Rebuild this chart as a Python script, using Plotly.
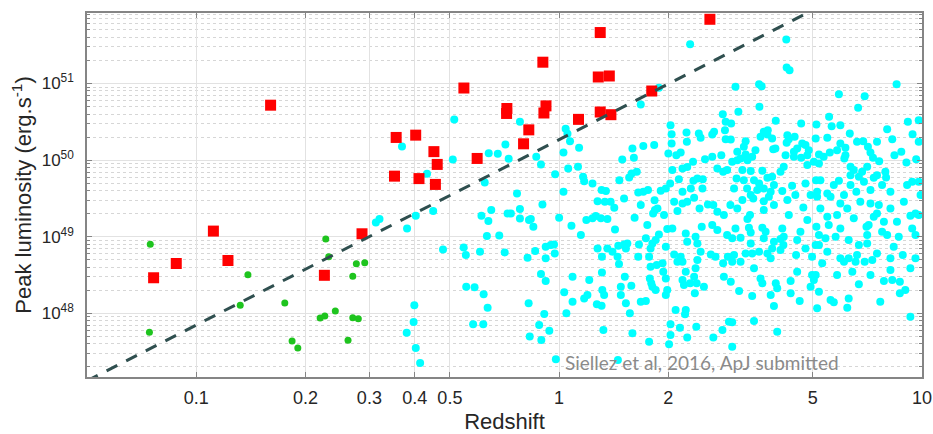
import numpy as np
import plotly.graph_objects as go

# ---------------- data ----------------
red_z = [0.0763, 0.0881, 0.1115, 0.1223, 0.1603, 0.2255, 0.2863, 0.3518, 0.3556, 0.4025,
         0.4110, 0.4518, 0.4561, 0.4614, 0.5465, 0.5945, 0.7178, 0.7165, 0.798, 0.825,
         0.902, 0.920, 0.908, 1.131, 1.298, 1.282, 1.375, 1.298, 1.389, 1.80, 2.603]
red_logL = [48.465, 48.651, 49.074, 48.69, 50.717, 48.497, 49.039, 49.791, 50.296, 50.326,
            49.759, 50.111, 49.683, 49.944, 50.941, 50.022, 50.674, 50.609, 50.213, 50.395,
            51.278, 50.708, 50.615, 50.532, 51.665, 51.085, 51.098, 50.628, 50.593, 50.902, 51.838]

green_z = [0.0747, 0.0743, 0.1388, 0.1322, 0.1754, 0.1837, 0.1905, 0.2275, 0.2318, 0.2417,
           0.2195, 0.2261, 0.270, 0.2762, 0.2913, 0.262, 0.270, 0.2797]
green_logL = [48.901, 47.754, 48.505, 48.106, 48.136, 47.64, 47.549, 48.97, 48.739, 48.031,
              47.94, 47.966, 48.484, 48.648, 48.661, 47.649, 47.944, 47.931]

cyan_logz = [
    -0.289, -0.433, -0.364, -0.293, -0.194, -0.169, -0.148, -0.139, -0.108, -0.205, -0.116,
    0.361, 0.275, 0.225, 0.018, 0.023, 0.030, 0.055, 0.012, -0.050, -0.063, -0.011, 0.025, 0.052,
    0.066, 0.069, 0.092, 0.012, 0.117, 0.129, 0.166, 0.174, 0.202, 0.206, 0.232, 0.262, 0.193,
    0.200, 0.214, 0.218, 0.232, 0.451, 0.459, 0.457, 0.427, 0.422, 0.385, 0.390, 0.351, 0.352,
    0.307, 0.310, 0.310, 0.301, 0.323, 0.335, 0.353, 0.340, 0.369, 0.312, 0.306, 0.330, 0.370,
    0.381, 0.396, 0.402, 0.422, 0.436, 0.447, 0.459, 0.463, 0.452, 0.395, 0.363, 0.340, 0.294,
    0.280, 0.245,
    0.626, 0.627, 0.635, 0.551, 0.558, 0.486, 0.930, 0.771, 0.842, 0.824, 0.552, 0.494, 0.744,
    0.751, 0.775, 0.801, 0.709, 0.667, 0.597, 0.474, 0.961, 0.991, 0.904, 0.974, 0.918, 0.991,
    0.473, 0.514, 0.509, 0.564, 0.574, 0.587, 0.555, 0.590, 0.629, 0.627, 0.649, 0.670, 0.679,
    0.656, 0.541, 0.491, 0.500, 0.519, 0.532, 0.477, 0.624, 0.647, 0.667, 0.702, 0.716, 0.716,
    0.739, 0.775, 0.789, 0.821, 0.838, 0.851, 0.876, 0.858, 0.882, 0.865, 0.924, 0.943, 0.957,
    0.984, 0.746, 0.766, 0.786, 0.803, 0.812, 0.826, 0.867, 0.803, 0.771, 0.757, 0.720, 0.679,
    0.642, 0.615, 0.587, 0.560, 0.528, 0.505, 0.489, 0.509, 0.537, 0.551, 0.574, 0.610, 0.619,
    0.583, 0.684, 0.711, 0.708, 0.819, 0.858, 0.899,
    -0.505, -0.495, -0.419, -0.395, -0.347, -0.320, -0.263, -0.257, -0.218, -0.214, -0.195,
    -0.187, -0.199, -0.165, -0.150, -0.142, -0.133, -0.108, -0.108, -0.083, -0.087, -0.256,
    -0.233, -0.208, -0.197, -0.237, -0.209, -0.084, -0.081, -0.399, -0.401, -0.420, -0.395,
    -0.383,
    -0.046, 0.000, 0.034, 0.075, 0.092, 0.101, 0.115, 0.133, 0.106, 0.126, 0.152, 0.179, 0.154,
    0.208, 0.263, 0.264, 0.259, 0.271, 0.298, 0.312, 0.317, 0.326, 0.340, 0.372, 0.387, 0.410,
    0.425, 0.454, 0.393, 0.422, 0.436, 0.463, -0.071, -0.078, -0.066, -0.037, -0.023, -0.014,
    -0.012, -0.037, -0.050, -0.037, 0.037, 0.014, 0.037, 0.020, -0.041, -0.055, -0.027, -0.049,
    -0.009, 0.106, 0.118, 0.133, 0.147, 0.161, 0.165, 0.163, 0.179, 0.188, 0.184, 0.220, 0.239,
    0.218, 0.248, 0.252, 0.257, 0.266, 0.275, 0.294, 0.252, 0.269, 0.285, 0.287, 0.294, 0.250,
    0.254, 0.257, 0.266, 0.298, 0.294, 0.225, 0.239, 0.199, 0.170, 0.181, 0.118, 0.119, 0.124,
    0.083, 0.078, 0.104, 0.117, 0.069, 0.170, 0.184, 0.195, 0.122, 0.202, 0.248, 0.307, 0.321,
    0.349, 0.347, 0.307, 0.333, 0.353, 0.378, 0.303, 0.425, 0.450, 0.468, 0.335, 0.340, 0.349,
    0.340, 0.344, 0.361, 0.376, 0.381, 0.372, 0.379, 0.374, 0.399, 0.390, 0.381, 0.353, 0.349,
    0.376, 0.418, 0.431, 0.452, 0.454, 0.465, 0.317, 0.326, 0.162,
    0.505, 0.535, 0.564, 0.578, 0.564, 0.526, 0.519, 0.486, 0.523, 0.528, 0.560, 0.569, 0.564,
    0.500, 0.477, 0.528, 0.532, 0.514, 0.551, 0.574, 0.583, 0.587, 0.592, 0.610, 0.615, 0.619,
    0.618, 0.610, 0.656, 0.665, 0.653, 0.673, 0.711, 0.748, 0.775, 0.794, 0.830, 0.858, 0.881,
    0.876, 0.867, 0.895, 0.890, 0.904, 0.936, 0.922, 0.947, 0.973, 0.982, 0.968, 0.982, 0.991,
    0.720, 0.739, 0.743, 0.709, 0.716, 0.734, 0.762, 0.798, 0.826, 0.849, 0.849, 0.847, 0.853,
    0.707, 0.716, 0.739, 0.697, 0.725, 0.775, 0.785, 0.798, 0.821, 0.817, 0.808, 0.842, 0.863,
    0.913, 0.913, 0.968, 0.982, 0.697, 0.707, 0.702, 0.693, 0.716, 0.748, 0.757, 0.798, 0.794,
    0.826, 0.895, 0.918, 0.939, 0.939, 0.954, 0.885, 0.711, 0.638, 0.638, 0.597, 0.601, 0.555,
    0.560, 0.496, 0.532, 0.583, 0.592, 0.663, 0.473, 0.477, 0.482, 0.968, 0.537, 0.477, 0.601,
    0.477,
    # additional points read from the dense areas
    0.482, 0.528, 0.564, 0.592, 0.651, 0.693, 0.739, 0.785, 0.803, 0.840, 0.890, 0.913, 0.959,
    0.991, 0.996, 0.575, 0.596, 0.633, 0.647, 0.688, 0.707, 0.684, 0.729, 0.789, 0.835, 0.849,
    0.876, 0.901, 0.973, 0.514, 0.491, 0.518, 0.546,
    0.491, 0.592, 0.629, 0.633, 0.684, 0.766, 0.812, 0.913, 0.950, 0.931, 0.775, 0.679, 0.876,
    0.766, 0.858, 0.656, 0.537, 0.500,
    0.142, 0.225, 0.289, 0.353, 0.436, 0.472, 0.243, 0.060,
]
cyan_logL = [
    50.53, 50.178, 49.822, 50.009, 50.091, 50.083, 50.204, 50.017, 50.50, 49.709, 49.566,
    51.512, 50.943, 50.726, 50.409, 50.343, 50.248, 50.161, 50.100, 49.943, 50.043, 49.817,
    49.891, 49.913, 49.783, 49.726, 49.696, 49.587, 49.609, 49.596, 49.739, 50.009, 50.152,
    50.030, 50.183, 50.196, 49.774, 49.826, 49.848, 49.578, 49.587, 50.600, 50.500, 50.391,
    50.369, 50.335, 50.348, 50.291, 50.361, 50.239, 50.456, 50.339, 50.217, 50.087, 50.065,
    50.100, 49.909, 49.891, 49.978, 49.870, 49.696, 49.752, 49.731, 49.761, 49.752, 50.013,
    50.043, 49.891, 50.065, 50.274, 49.870, 49.848, 49.631, 49.631, 49.587, 49.631, 49.600,
    49.609,
    51.573, 51.208, 51.173, 50.991, 50.965, 50.956, 50.991, 50.861, 50.834, 50.682, 50.695,
    50.630, 50.565, 50.443, 50.456, 50.348, 50.465, 50.478, 50.513, 50.478, 50.500, 50.521,
    50.404, 50.339, 50.274, 50.239, 50.270, 50.248, 50.174, 50.369, 50.335, 50.282, 50.304,
    50.143, 50.326, 50.226, 50.304, 50.217, 50.196, 50.152, 50.130, 50.109, 50.022, 50.000,
    50.043, 49.978, 50.065, 50.043, 50.030, 49.978, 50.074, 49.957, 50.291, 50.217, 50.161,
    50.239, 50.248, 50.174, 50.239, 50.100, 49.987, 50.030, 50.065, 50.109, 49.970, 50.013,
    50.100, 50.130, 50.022, 49.913, 49.870, 49.783, 49.770, 49.804, 49.731, 49.674, 49.739,
    49.696, 49.665, 49.596, 49.783, 49.861, 49.857, 49.870, 49.761, 49.739, 49.739, 49.696,
    49.770, 49.848, 49.913, 49.587, 49.935, 49.587, 49.739, 49.587, 49.609, 49.848,
    49.187, 49.231, 49.109, 49.274, 49.335, 48.835, 48.861, 48.761, 48.805, 49.274, 49.205,
    49.348, 49.009, 49.018, 48.796, 49.305, 49.305, 49.361, 49.239, 49.218, 48.727, 48.349,
    48.340, 48.249, 48.075, 47.858, 47.858, 48.131, 47.697, 48.105, 47.888, 47.749, 47.549,
    47.353,
    49.422, 49.248, 49.144, 49.218, 49.240, 49.270, 49.240, 49.231, 49.465, 49.457, 49.379,
    49.500, 49.096, 49.248, 49.478, 49.348, 49.305, 49.370, 49.100, 49.109, 49.457, 49.335,
    49.435, 49.509, 49.370, 49.422, 49.413, 49.283, 49.131, 49.152, 49.087, 49.022, 49.131,
    49.231, 48.813, 48.870, 48.892, 48.900, 48.783, 48.718, 48.514, 48.422, 48.479, 48.275,
    48.153, 48.001, 47.992, 47.849, 47.775, 47.653, 47.401, 48.848, 48.740, 48.848, 48.805,
    48.740, 48.644, 48.883, 48.900, 48.913, 48.848, 48.900, 48.979, 48.740, 48.740, 48.848,
    48.913, 48.957, 49.031, 48.870, 48.609, 48.631, 48.653, 48.544, 48.457, 48.457, 48.392,
    48.349, 48.305, 48.305, 48.240, 48.153, 48.162, 48.362, 48.349, 48.479, 48.535, 48.305,
    48.240, 48.435, 48.240, 48.118, 48.101, 48.196, 48.240, 48.131, 48.001, 47.784, 47.740,
    47.631, 47.857, 48.044, 48.044, 47.988, 47.718, 47.814, 47.684, 47.827, 47.597, 47.684,
    47.784, 47.892, 48.740, 48.674, 48.544, 48.435, 48.370, 48.392, 48.588, 48.696, 48.479,
    48.392, 48.262, 48.349, 48.805, 48.913, 48.935, 49.044, 49.000, 48.770, 48.740, 48.653,
    48.479, 48.740, 48.770, 48.674, 47.393,
    49.479, 49.500, 49.465, 49.522, 49.348, 49.283, 49.231, 49.109, 49.118, 49.057, 49.118,
    49.066, 48.979, 48.987, 48.979, 48.913, 48.783, 48.783, 48.805, 48.783, 48.718, 48.848,
    48.935, 48.970, 49.109, 49.000, 48.892, 48.827, 48.957, 49.066, 48.761, 49.383, 49.522,
    49.522, 49.435, 49.370, 49.457, 49.435, 49.413, 49.305, 49.261, 49.196, 49.066, 49.022,
    49.000, 48.870, 48.761, 49.109, 49.022, 49.274, 49.305, 49.283, 49.370, 49.261, 49.152,
    49.131, 49.022, 48.979, 49.000, 48.957, 48.892, 49.022, 48.913, 49.131, 49.152, 48.892,
    48.892, 48.805, 48.740, 48.653, 48.718, 48.674, 48.718, 48.761, 48.674, 48.544, 48.674,
    48.696, 48.718, 48.566, 48.588, 48.718, 48.501, 48.501, 48.435, 48.349, 48.283, 48.175,
    48.144, 48.196, 48.075, 48.379, 48.422, 48.435, 48.414, 48.262, 48.305, 48.153, 48.066,
    48.422, 48.262, 48.392, 48.327, 48.457, 48.392, 48.292, 48.227, 48.240, 48.096, 48.162,
    48.414, 48.674, 48.761, 47.957, 47.901, 47.884, 47.762, 47.566,
    # additional points read from the dense areas
    49.631, 49.544, 49.631, 49.674, 49.544, 49.544, 49.566, 49.544, 49.674, 49.718, 49.674,
    49.587, 49.674, 49.718, 49.544, 50.391, 50.152, 50.274, 50.109, 50.130, 50.283, 50.065,
    50.043, 50.065, 49.848, 49.913, 49.804, 49.774, 49.718, 50.074, 50.000, 49.631, 49.609,
    49.370, 49.413, 49.479, 49.283, 49.218, 49.283, 49.240, 49.370, 49.457, 49.196, 49.109,
    48.848, 48.783, 48.501, 48.501, 48.544, 48.588, 48.674,
    49.457, 49.413, 49.283, 49.457, 49.326, 49.413, 49.153, 49.022,
]

limit_z = [0.05, 4.8]
limit_logL = [47.12, 51.915]

x_tickvals = [0.1, 0.2, 0.3, 0.4, 0.5, 1, 2, 5, 10]
x_ticktext = ["0.1", "0.2", "0.3", "0.4", "0.5", "1", "2", "5", "10"]
y_exponents = [48, 49, 50, 51]

# ---------------- figure ----------------
fig = go.Figure()
fig.add_trace(go.Scatter(
    x=10 ** np.array(cyan_logz), y=10 ** np.array(cyan_logL), mode="markers",
    marker=dict(color="#00ffff", size=8, line=dict(width=0)), showlegend=False))
fig.add_trace(go.Scatter(
    x=green_z, y=10 ** np.array(green_logL), mode="markers",
    marker=dict(color="#1ec41e", size=7, line=dict(width=0)), showlegend=False))
fig.add_trace(go.Scatter(
    x=red_z, y=10 ** np.array(red_logL), mode="markers",
    marker=dict(color="#ff0000", size=11, symbol="square", line=dict(width=0)), showlegend=False))
# detection-limit line (drawn on the overlay axis that carries the inner tick marks)
fig.add_trace(go.Scatter(
    x=limit_z, y=10 ** np.array(limit_logL), mode="lines", xaxis="x2", yaxis="y",
    line=dict(color="#2f4f4f", width=3, dash="12px,10px"), showlegend=False))

font_family = "Liberation Sans, Arial, sans-serif"
text_col = "#262626"
frame_col = "#858585"
x_range = [np.log10(0.05), 1]

fig.update_layout(
    xaxis=dict(
        type="log", range=x_range, automargin=False,
        tickmode="array", tickvals=x_tickvals, ticktext=x_ticktext,
        showgrid=True, gridcolor="#e2e2e2", gridwidth=1, zeroline=False,
        showline=True, linecolor=frame_col, linewidth=1.5, mirror=True,
        ticks="outside", ticklen=4, tickcolor="rgba(0,0,0,0)",
        tickfont=dict(family=font_family, size=18, color=text_col),
        title=dict(text="Redshift", font=dict(family=font_family, size=22, color=text_col), standoff=8),
    ),
    xaxis2=dict(
        type="log", range=x_range, overlaying="x", anchor="y", side="bottom", automargin=False,
        tickmode="array", tickvals=x_tickvals, showticklabels=False,
        showgrid=False, zeroline=False,
        showline=True, linecolor=frame_col, linewidth=1.5, mirror="ticks",
        ticks="inside", ticklen=5, tickcolor=frame_col, tickwidth=1,
    ),
    yaxis=dict(
        type="log", range=[47.17, 51.92], automargin=False,
        tickmode="array", tickvals=[10.0 ** e for e in y_exponents],
        ticktext=["10<sup>%d</sup>" % e for e in y_exponents],
        showgrid=True, gridcolor="#e2e2e2", gridwidth=1, zeroline=False,
        showline=True, linecolor=frame_col, linewidth=1.5, mirror="ticks",
        ticks="inside", ticklen=5, tickcolor=frame_col, tickwidth=1,
        tickfont=dict(family=font_family, size=17, color=text_col), ticklabelstandoff=8,
        minor=dict(dtick="D1", ticks="inside", ticklen=3, tickcolor=frame_col,
                   showgrid=True, gridcolor="#d6d6d6", griddash="dot", gridwidth=1),
        title=dict(text="Peak luminosity (erg.s<sup>-1</sup>)",
                   font=dict(family=font_family, size=22, color=text_col), standoff=4),
    ),
    width=933, height=434,
    margin=dict(l=87, r=11, t=13, b=57),
    paper_bgcolor="white", plot_bgcolor="white",
)

fig.add_annotation(
    xref="paper", yref="paper", x=0.57, y=0.041, xanchor="left", yanchor="middle",
    text="Siellez et al, 2016, ApJ submitted", showarrow=False,
    font=dict(family="Lato, Open Sans, sans-serif", size=19, color="#8a8a8a"))

fig.write_html("out.html", config={"displayModeBar": False},
               post_script="document.body.style.margin='0px';")
